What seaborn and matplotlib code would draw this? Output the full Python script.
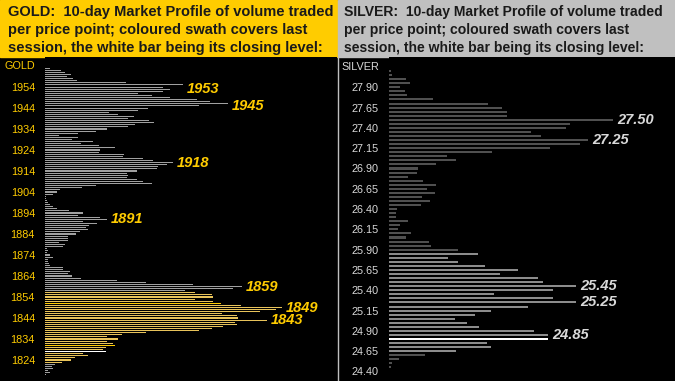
import numpy as np
import pandas as pd
import matplotlib
matplotlib.use('Agg')
import matplotlib.pyplot as plt
from matplotlib import font_manager
import seaborn as sns

# GOLD: volume per $1 price point, top (1963) to bottom (1817)
gold_volume = [
    5, 16, 20, 26, 22, 28, 32, 81, 138, 118,
    125, 118, 93, 107, 125, 152, 165, 183, 154, 103,
    93, 64, 73, 89, 83, 104, 109, 90, 83, 62,
    51, 33, 14, 33, 27, 48, 36, 54, 70, 55,
    54, 79, 78, 98, 108, 128, 122, 113, 112, 92,
    82, 83, 82, 92, 98, 107, 51, 37, 15, 12,
    8, 1, 1, 2, 3, 5, 8, 12, 24, 38,
    33, 55, 62, 38, 52, 44, 41, 43, 35, 31,
    23, 23, 23, 14, 20, 18, 2, 3, 2, 5,
    8, 3, 3, 4, 5, 18, 18, 25, 23, 27,
    36, 72, 101, 148, 197, 188, 140, 150, 167, 168,
    150, 168, 176, 196, 237, 231, 215, 177, 192, 193,
    222, 190, 192, 178, 167, 154, 101, 77, 62, 73,
    62, 68, 70, 61, 58, 61, 38, 43, 30, 26,
    17, 10, 7, 8, 3, 5, 1,
]
gold_top = 1963
gold_swath = (1823, 1856)
gold_bright = [1851, 1831]
gold_close = 1828
gold_ticks = [1954, 1944, 1934, 1924, 1914, 1904, 1894, 1884, 1874, 1864, 1854, 1844, 1834, 1824]
gold_labels = [1953, 1945, 1918, 1891, 1859, 1849, 1843]

# SILVER: volume per 5c price point, top (28.10) to bottom (24.45)
silver_volume = [
    2, 3, 17, 21, 11, 16, 18, 44, 99, 113,
    118, 118, 224, 181, 177, 142, 152, 199, 191, 161,
    103, 58, 67, 47, 29, 28, 19, 34, 47, 38,
    46, 33, 41, 32, 8, 7, 7, 19, 11, 9,
    22, 17, 40, 42, 69, 89, 59, 69, 96, 129,
    111, 149, 154, 187, 164, 105, 164, 187, 139, 102,
    86, 66, 78, 90, 145, 159, 159, 98, 102, 67,
    36, 10, 3, 2,
]
silver_top = 28.10
silver_swath = (24.65, 25.85)
silver_close = 24.80
silver_ticks = [27.90, 27.65, 27.40, 27.15, 26.90, 26.65, 26.40, 26.15,
                25.90, 25.65, 25.40, 25.15, 24.90, 24.65, 24.40]
silver_labels = [27.50, 27.25, 25.45, 25.25, 24.85]

GOLD_C = '#FFCC00'
SILVER_C = '#D9D9D9'

sns.set_theme(style='dark', rc={'axes.facecolor': 'black', 'figure.facecolor': 'black'})
plt.rcParams['font.family'] = ['Liberation Sans', 'DejaVu Sans']

installed = {f.name for f in font_manager.fontManager.ttflist}
if 'Liberation Sans Narrow' in installed:
    head_font, gold_size, silver_size = 'Liberation Sans Narrow', 12.3, 11.9
else:
    head_font, gold_size, silver_size = 'Liberation Sans', 10.5, 10.1


def profile(prices, volume, swath, bright, close):
    kind = []
    for p in prices:
        if np.isclose(p, close):
            kind.append('close')
        elif any(np.isclose(p, b) for b in bright):
            kind.append('bright')
        elif swath[0] - 1e-9 <= p <= swath[1] + 1e-9:
            kind.append('swath')
        else:
            kind.append('other')
    return pd.DataFrame({'price': prices, 'volume': volume, 'kind': kind})


gold_prices = [gold_top - i for i in range(len(gold_volume))]
silver_prices = [round(silver_top - 0.05 * i, 2) for i in range(len(silver_volume))]
gold_df = profile(gold_prices, gold_volume, gold_swath, gold_bright, gold_close)
silver_df = profile(silver_prices, silver_volume, silver_swath, [], silver_close)

W, H = 675, 381
fig = plt.figure(figsize=(W / 100, H / 100), dpi=100)
fig.patch.set_facecolor('black')

head_h = 57
ax_g = fig.add_axes([45 / W, 0, 292 / W, (H - head_h) / H])
ax_s = fig.add_axes([389 / W, 0, 286 / W, (H - head_h) / H])

panels = [
    (ax_g, gold_df, {'other': '#A0A0A0', 'swath': '#E8C35A', 'bright': '#FFCC00', 'close': '#FFFFFF'},
     0.5, (0, 292), (1814.0, 1968.3), gold_ticks, [str(t) for t in gold_ticks], GOLD_C,
     gold_labels, [str(v) for v in gold_labels], 2),
    (ax_s, silver_df, {'other': '#505050', 'swath': '#8C8C8C', 'bright': '#8C8C8C', 'close': '#FFFFFF'},
     0.5, (0, 286), (24.283, 28.273), silver_ticks, ['%.2f' % t for t in silver_ticks], SILVER_C,
     silver_labels, ['%.2f' % v for v in silver_labels], 0.1),
]

for ax, df, pal, bw, xl, yl, ticks, tlabels, tcol, labs, labtxt, win in panels:
    sns.barplot(data=df, x='volume', y='price', hue='kind', palette=pal, orient='y',
                native_scale=True, dodge=False, width=bw, saturation=1, errorbar=None,
                legend=False, linewidth=0, ax=ax)
    for bar in ax.patches:
        bar.set_antialiased(False)
    ax.set_xlim(*xl)
    ax.set_ylim(*yl)
    ax.set_xticks([])
    ax.set_yticks(ticks)
    ax.set_yticklabels(tlabels)
    ax.set_xlabel('')
    ax.set_ylabel('')
    ax.grid(False)
    ax.set_facecolor('black')
    for s in ax.spines.values():
        s.set_visible(False)
    ax.tick_params(axis='y', length=0, pad=7.2, labelsize=7.8, labelcolor=tcol)
    for v, t in zip(labs, labtxt):
        near = df[(df['price'] >= v - win - 1e-9) & (df['price'] <= v + win + 1e-9)]['volume'].max()
        ax.text(near + 4, v, t, color=tcol, fontsize=10.5, fontweight='bold',
                fontstyle='italic', va='center', ha='left')

# axis name labels at the top of each price scale
fig.text(35 / W, 1 - 66 / H, 'GOLD', color=GOLD_C, fontsize=7.8, ha='right', va='center')
fig.text(379 / W, 1 - 67 / H, 'SILVER', color=SILVER_C, fontsize=7.8, ha='right', va='center')

# header boxes
fig.add_artist(plt.Rectangle((0, 1 - head_h / H), 337 / W, head_h / H,
                             transform=fig.transFigure, color=GOLD_C, zorder=0))
fig.add_artist(plt.Rectangle((338 / W, 1 - head_h / H), 337 / W, head_h / H,
                             transform=fig.transFigure, color='#C0C0C0', zorder=0))
fig.add_artist(plt.Line2D([338 / W, 338 / W], [0, 1 - head_h / H],
                          transform=fig.transFigure, color='#BFBFBF', lw=1))

gold_head = ['GOLD:  10-day Market Profile of volume traded',
             'per price point; coloured swath covers last',
             'session, the white bar being its closing level:']
silver_head = ['SILVER:  10-day Market Profile of volume traded',
               'per price point; coloured swath covers last',
               'session, the white bar being its closing level:']
for i, y in enumerate([12, 30, 48]):
    fig.text(8 / W, 1 - y / H, gold_head[i], family=head_font, fontsize=gold_size,
             fontweight='bold', color='#1A1A1A', va='center', ha='left')
    fig.text(344 / W, 1 - y / H, silver_head[i], family=head_font, fontsize=silver_size,
             fontweight='bold', color='#1A1A1A', va='center', ha='left')

fig.savefig('out.png', dpi=100, facecolor='black')
